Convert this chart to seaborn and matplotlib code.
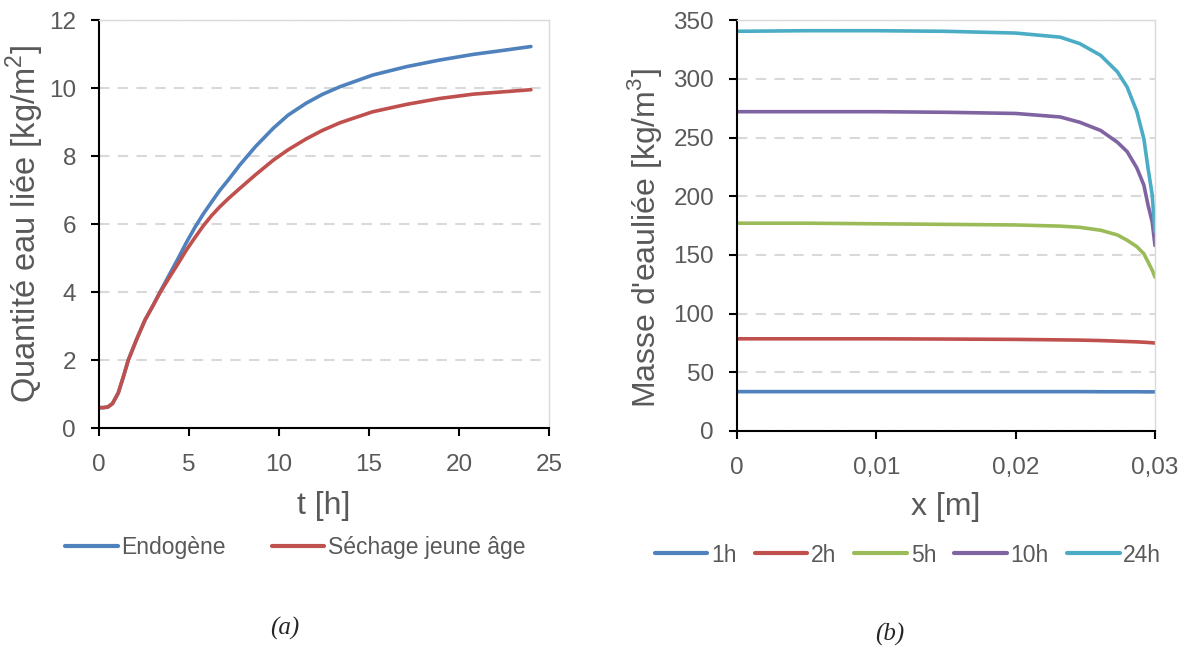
import pandas as pd
import matplotlib
matplotlib.use("Agg")
import matplotlib.pyplot as plt
import seaborn as sns
from matplotlib.ticker import FixedLocator

# --- panel (a): quantité d'eau liée en fonction du temps ---
t_endo = [0, 0.25, 0.5, 0.75, 1.07, 1.35, 1.63, 2.1, 2.56, 3.0, 3.39, 3.9, 4.4, 4.85, 5.33, 5.8,
          6.26, 6.7, 7.19, 7.83, 8.7, 9.69, 10.5, 11.5, 12.4, 13.4, 15.2, 17.1, 18.9, 20.8, 22.5, 24]
endogene = [0.6, 0.6, 0.62, 0.72, 1.03, 1.5, 2.0, 2.62, 3.18, 3.6, 4.0, 4.5, 4.99, 5.45, 5.9, 6.3,
            6.65, 6.98, 7.3, 7.74, 8.28, 8.82, 9.2, 9.55, 9.81, 10.04, 10.38, 10.63, 10.82, 10.99,
            11.11, 11.22]
t_sech = [0, 0.25, 0.5, 0.75, 1.07, 1.35, 1.63, 2.1, 2.56, 3.0, 3.39, 3.9, 4.4, 4.85, 5.33, 5.8,
          6.26, 6.7, 7.19, 7.83, 8.7, 9.69, 10.5, 11.5, 12.4, 13.4, 15.2, 17.1, 18.9, 20.8, 22.5, 24]
sechage = [0.6, 0.6, 0.62, 0.72, 1.03, 1.5, 2.0, 2.62, 3.18, 3.6, 3.98, 4.42, 4.84, 5.23, 5.6, 5.95,
           6.25, 6.5, 6.75, 7.05, 7.45, 7.88, 8.18, 8.5, 8.75, 8.98, 9.3, 9.52, 9.69, 9.82, 9.89, 9.95]

# --- panel (b): masse d'eau liée en fonction de la profondeur ---
x_m = [0, 0.005, 0.01, 0.015, 0.02, 0.0232, 0.0246, 0.0261, 0.0273, 0.0280, 0.0287, 0.0292,
       0.0295, 0.0298, 0.03]
m_1h = [33.5, 33.5, 33.5, 33.5, 33.5, 33.5, 33.5, 33.4, 33.4, 33.4, 33.4, 33.3, 33.3, 33.3, 33.3]
m_2h = [78.5, 78.5, 78.5, 78.3, 78.0, 77.6, 77.4, 77.0, 76.5, 76.2, 75.9, 75.6, 75.4, 75.1, 74.9]
m_5h = [177, 177, 176.5, 176, 175.5, 174.5, 173.5, 171, 167, 162.5, 157, 151, 144, 137, 131]
m_10h = [272, 272, 272, 271.5, 270.5, 267.5, 263, 256, 246, 238, 224, 209.5, 192.5, 178, 158]
m_24h = [340.5, 341, 341, 340.5, 339, 335.5, 330, 320, 306, 293, 272, 249, 224, 201, 170]

left_labels = ["Endogène", "Séchage jeune âge"]
right_labels = ["1h", "2h", "5h", "10h", "24h"]
x_ticks_a = [0, 5, 10, 15, 20, 25]
y_ticks_a = [0, 2, 4, 6, 8, 10, 12]
x_ticks_b = [0, 0.01, 0.02, 0.03]
x_tick_labels_b = ["0", "0,01", "0,02", "0,03"]
y_ticks_b = [0, 50, 100, 150, 200, 250, 300, 350]

colors_a = ["#4F81BD", "#C0504D"]
colors_b = ["#4F81BD", "#C0504D", "#9BBB59", "#8064A2", "#4BACC6"]

sns.set_theme(style="white")
plt.rcParams["font.family"] = ["Liberation Sans", "DejaVu Sans"]
plt.rcParams["mathtext.fontset"] = "custom"
plt.rcParams["mathtext.rm"] = "Liberation Sans"

df_a = pd.concat([
    pd.DataFrame({"t": t_endo, "q": endogene, "serie": left_labels[0]}),
    pd.DataFrame({"t": t_sech, "q": sechage, "serie": left_labels[1]}),
])
df_b = pd.concat([
    pd.DataFrame({"x": x_m, "m": vals, "serie": lab})
    for vals, lab in zip([m_1h, m_2h, m_5h, m_10h, m_24h], right_labels)
])

fig = plt.figure(figsize=(11.84, 6.5), dpi=100)
ax_a = fig.add_axes([0.0836, 0.3415, 0.380, 0.6277])
ax_b = fig.add_axes([0.6225, 0.337, 0.353, 0.632])

text_grey = "#595959"


def style_axes(ax):
    ax.grid(axis="y", color="#d9d9d9", linestyle=(0, (5, 4)), linewidth=1.5)
    ax.set_axisbelow(True)
    for side in ["left", "bottom"]:
        ax.spines[side].set_color("black")
        ax.spines[side].set_linewidth(1.5)
    for side in ["right", "top"]:
        ax.spines[side].set_color("#d9d9d9")
        ax.spines[side].set_linewidth(1.0)
    ax.tick_params(axis="both", which="major", direction="out", length=5.5, width=1.5,
                   color="black", labelsize=17.5, labelcolor=text_grey,
                   bottom=True, left=True)
    ax.tick_params(axis="y", pad=11)
    ax.tick_params(axis="x", pad=13)


# panel (a)
sns.lineplot(data=df_a, x="t", y="q", hue="serie", palette=colors_a, linewidth=2.6,
             ax=ax_a, legend=False, sort=False)
ax_a.set_xlim(0, 25)
ax_a.set_ylim(0, 12)
ax_a.xaxis.set_major_locator(FixedLocator(x_ticks_a))
ax_a.yaxis.set_major_locator(FixedLocator(y_ticks_a))
style_axes(ax_a)
ax_a.set_xlabel("t [h]", fontsize=23, color=text_grey)
ax_a.set_ylabel("Quantité eau liée [kg/m$^2$]", fontsize=23.5, color=text_grey)
ax_a.xaxis.set_label_coords(0.5, -0.155)
ax_a.yaxis.set_label_coords(-0.118, 0.5)
handles_a = [plt.Line2D([], [], color=c, linewidth=3) for c in colors_a]
ax_a.legend(handles_a, left_labels, loc="center", bbox_to_anchor=(0.436, -0.294),
            ncol=2, frameon=False, fontsize=16.5, handlelength=2.3, handletextpad=0.15,
            columnspacing=2.0, labelcolor=text_grey)

# panel (b)
sns.lineplot(data=df_b, x="x", y="m", hue="serie", palette=colors_b, linewidth=2.6,
             ax=ax_b, legend=False, sort=False)
ax_b.set_xlim(0, 0.03)
ax_b.set_ylim(0, 350)
ax_b.xaxis.set_major_locator(FixedLocator(x_ticks_b))
ax_b.set_xticklabels(x_tick_labels_b)
ax_b.yaxis.set_major_locator(FixedLocator(y_ticks_b))
style_axes(ax_b)
ax_b.set_xlabel("x [m]", fontsize=23, color=text_grey)
ax_b.set_ylabel("Masse d'eauliée [kg/m$^3$]", fontsize=23, color=text_grey)
ax_b.xaxis.set_label_coords(0.5, -0.148)
ax_b.yaxis.set_label_coords(-0.175, 0.47)
handles_b = [plt.Line2D([], [], color=c, linewidth=3) for c in colors_b]
ax_b.legend(handles_b, right_labels, loc="center", bbox_to_anchor=(0.409, -0.302),
            ncol=5, frameon=False, fontsize=16.5, handlelength=2.3, handletextpad=0.15,
            columnspacing=0.8, labelcolor=text_grey)

fig.text(285 / 1184, 1 - 628 / 650, "(a)", fontsize=18, style="italic",
         family="Liberation Serif", ha="center", va="center")
fig.text(890 / 1184, 1 - 634 / 650, "(b)", fontsize=18, style="italic",
         family="Liberation Serif", ha="center", va="center")

fig.savefig("out.png", dpi=100)
